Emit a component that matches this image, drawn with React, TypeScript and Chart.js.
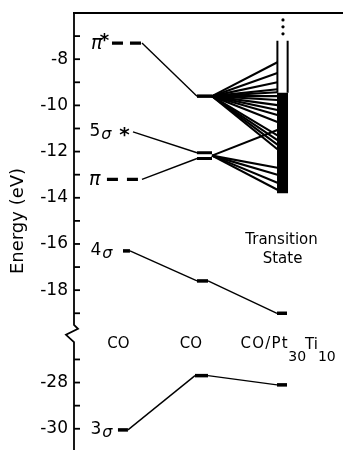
import React, { useEffect, useRef } from "react";
import { Chart, registerables } from "chart.js";

Chart.register(...registerables);

// ---------------- data (eV) ----------------
const columnIndex = [0, 1, 2];
const columnLabels = ["CO", "CO", "CO/Pt30Ti10"];
const surfaceLabelParts: [string, boolean][] = [["CO/Pt", false], ["30", true], ["Ti", false], ["10", true]];

// orbital levels per column: [CO, CO (distorted), CO/Pt30Ti10]
const piStarLevels = [-7.3, -9.6];
const fiveSigmaLevels = [-11.15, -12.05];
const piLevels = [-13.2, -12.3];
const fourSigmaLevels = [-16.3, -17.6, -19.0];
const threeSigmaLevels = [-30.05, -27.7, -28.1];

// transition-state band of CO/Pt30Ti10
const tsOpenBand = [-7.2, -9.45];
const tsFilledBand = [-9.45, -13.8];
const tsDots = [-6.3, -6.6, -6.9];

// mixing lines into the band
const fanFromPiStar = [-8.13, -8.6, -9.0, -9.3, -9.43, -9.6, -9.77, -9.99, -10.2, -10.42, -10.72, -11.3, -11.5, -11.7, -11.9];
const fanFromSigmaPi = [-11.07, -12.7, -13.0, -13.35, -13.65];

// axis
const upperTickValues = [-7, -8, -9, -10, -11, -12, -13, -14, -15, -16, -17, -18, -19];
const lowerTickValues = [-27, -28, -29, -30];
const upperTickLabels = [-8, -10, -12, -14, -16, -18];
const lowerTickLabels = [-28, -30];
const upperRange = [-20, -6];
const lowerRange = [-30.92, -26];

// ---------------- geometry / style ----------------
const SPAN = {
  piStarL: [-0.2, 0.187],
  piL: [-0.265, 0.187],
  sigma5StartL: 0.071,
  sigma4L: [-0.058, 0.032],
  sigma3L: [-0.123, 0.006],
  mid: [-0.103, 0.09],
  mid4: [-0.103, 0.039],
  mid3: [-0.129, 0.039],
  right: [-0.071, 0.058],
  bandEdges: [-0.066, 0.066],
  dotX: 0.006,
};
const LW = { level: 3.5, conn: 1.4, fan: 2.1 };
const FONT = "DejaVu Sans";

type P = { x: number; y: number };
const seg = (pts: P[], axis: string, width: number, dash: number[] = []) => ({
  type: "line" as const,
  data: pts,
  yAxisID: axis,
  xAxisID: "x",
  borderColor: "#000",
  backgroundColor: "#000",
  borderWidth: width,
  borderDash: dash,
  borderCapStyle: "butt",
  pointRadius: 0,
  pointHoverRadius: 0,
  fill: false,
  tension: 0,
  clip: false,
});

const decor = {
  id: "decor",
  afterDatasetsDraw(chart: any) {
    const ctx: CanvasRenderingContext2D = chart.ctx;
    const { x, yTop, yBot } = chart.scales;
    const area = chart.chartArea;
    const ax = area.left;
    ctx.save();
    ctx.strokeStyle = "#000";
    ctx.fillStyle = "#000";
    ctx.lineWidth = 1.8;
    // top frame
    ctx.beginPath();
    ctx.moveTo(ax - 1, area.top);
    ctx.lineTo(area.right - 2, area.top);
    ctx.stroke();
    // axis with break
    const bTop = yTop.getPixelForValue(-19.5);
    const bBot = yBot.getPixelForValue(-26.25);
    ctx.beginPath();
    ctx.moveTo(ax, area.top);
    ctx.lineTo(ax, bTop);
    ctx.lineTo(ax + 4, bTop + 4);
    ctx.lineTo(ax - 8, bTop + 10);
    ctx.lineTo(ax, bBot);
    ctx.lineTo(ax, area.bottom);
    ctx.stroke();
    // inward ticks
    for (const v of upperTickValues) {
      const p = yTop.getPixelForValue(v);
      ctx.beginPath(); ctx.moveTo(ax, p); ctx.lineTo(ax + 6, p); ctx.stroke();
    }
    for (const v of lowerTickValues) {
      const p = yBot.getPixelForValue(v);
      ctx.beginPath(); ctx.moveTo(ax, p); ctx.lineTo(ax + 6, p); ctx.stroke();
    }

    const colPx = (c: number) => x.getPixelForValue(c);
    const c0 = colPx(columnIndex[0]);
    // orbital labels
    const drawSigma = (digit: string, y: number, xr: number) => {
      ctx.font = `italic 16px ${FONT}`;
      ctx.textAlign = "right";
      ctx.textBaseline = "middle";
      ctx.fillText("σ", xr, y + 3);
      const w = ctx.measureText("σ").width;
      ctx.font = `17px ${FONT}`;
      ctx.fillText(digit, xr - w - 1, y);
    };
    const drawPi = (y: number, xr: number, star: boolean) => {
      ctx.font = `italic 19px ${FONT}`;
      ctx.textAlign = "right";
      ctx.textBaseline = "middle";
      ctx.fillText("π", xr, y + 1);
      if (star) {
        ctx.font = `bold 18px ${FONT}`;
        ctx.textAlign = "center";
        ctx.fillText("*", xr + 2, y - 2);
      }
    };
    drawPi(yTop.getPixelForValue(piStarLevels[0]), c0 - 25, true);
    drawPi(yTop.getPixelForValue(piLevels[0]), c0 - 27, false);
    const y5 = yTop.getPixelForValue(fiveSigmaLevels[0]);
    drawSigma("5", y5, c0 - 16);
    ctx.font = `bold 20px ${FONT}`;
    ctx.textAlign = "center";
    ctx.fillText("*", c0 - 3, y5 + 4);
    drawSigma("4", yTop.getPixelForValue(fourSigmaLevels[0]), c0 - 15);
    drawSigma("3", yBot.getPixelForValue(threeSigmaLevels[0]), c0 - 15);

    // column labels in the break
    const yl = yTop.getPixelForValue(-20) + 8;
    ctx.font = `15px ${FONT}`;
    ctx.textAlign = "center";
    ctx.textBaseline = "middle";
    ctx.fillText(columnLabels[0], c0 - 9, yl);
    ctx.fillText(columnLabels[1], colPx(columnIndex[1]) - 14, yl);
    let xx = colPx(columnIndex[2]) - 42;
    ctx.textAlign = "left";
    surfaceLabelParts.forEach(([t, sub], i) => {
      if (sub) {
        ctx.font = `14px ${FONT}`;
        ctx.fillText(t, xx, yl + 13);
        xx += ctx.measureText(t).width - 1;
      } else if (i === 0) {
        ctx.font = `15px ${FONT}`;
        for (const ch of t) {
          ctx.fillText(ch, xx, yl);
          xx += ctx.measureText(ch).width + 1.2;
        }
        xx -= 0.5;
      } else {
        ctx.font = `15px ${FONT}`;
        ctx.fillText(t, xx, yl + 1);
        xx += ctx.measureText(t).width;
      }
    });
    // transition state
    ctx.textAlign = "center";
    ctx.font = `15px ${FONT}`;
    const c2 = colPx(columnIndex[2]);
    ctx.fillText("Transition", c2 - 1, yTop.getPixelForValue(-15.82));
    ctx.fillText("State", c2, yTop.getPixelForValue(-16.64));

    // y title
    ctx.save();
    ctx.translate(18, 221);
    ctx.rotate(-Math.PI / 2);
    ctx.font = `18px ${FONT}`;
    ctx.textAlign = "center";
    ctx.textBaseline = "middle";
    ctx.fillText("Energy (eV)", 0, 0);
    ctx.restore();
    ctx.restore();
  },
};

export default function App() {
  const ref = useRef<HTMLCanvasElement>(null);
  useEffect(() => {
    const canvas = ref.current!;
    const [c0, c1, c2] = columnIndex;
    const ds: any[] = [];
    // π*
    ds.push(seg([{ x: c0 + SPAN.piStarL[0], y: piStarLevels[0] }, { x: c0 + SPAN.piStarL[1], y: piStarLevels[0] }], "yTop", 3.2, [11, 7]));
    ds.push(seg([{ x: c0 + SPAN.piStarL[1], y: piStarLevels[0] }, { x: c1 + SPAN.mid[0], y: piStarLevels[1] }], "yTop", LW.conn));
    ds.push(seg([{ x: c1 + SPAN.mid[0], y: piStarLevels[1] }, { x: c1 + SPAN.mid[1], y: piStarLevels[1] }], "yTop", LW.level));
    // 5σ
    ds.push(seg([{ x: c0 + SPAN.sigma5StartL, y: fiveSigmaLevels[0] }, { x: c1 + SPAN.mid[0], y: fiveSigmaLevels[1] }], "yTop", LW.conn));
    ds.push(seg([{ x: c1 + SPAN.mid[0], y: fiveSigmaLevels[1] }, { x: c1 + SPAN.mid[1], y: fiveSigmaLevels[1] }], "yTop", 3));
    // π
    ds.push(seg([{ x: c0 + SPAN.piL[0], y: piLevels[0] }, { x: c0 + SPAN.piL[1], y: piLevels[0] }], "yTop", 3.2, [11, 9]));
    ds.push(seg([{ x: c0 + SPAN.piL[1], y: piLevels[0] }, { x: c1 + SPAN.mid[0], y: piLevels[1] }], "yTop", LW.conn));
    ds.push(seg([{ x: c1 + SPAN.mid[0], y: piLevels[1] }, { x: c1 + SPAN.mid[1], y: piLevels[1] }], "yTop", 3));
    // 4σ
    ds.push(seg([{ x: c0 + SPAN.sigma4L[0], y: fourSigmaLevels[0] }, { x: c0 + SPAN.sigma4L[1], y: fourSigmaLevels[0] }], "yTop", LW.level));
    ds.push(seg([{ x: c0 + SPAN.sigma4L[1], y: fourSigmaLevels[0] }, { x: c1 + SPAN.mid4[0], y: fourSigmaLevels[1] }], "yTop", LW.conn));
    ds.push(seg([{ x: c1 + SPAN.mid4[0], y: fourSigmaLevels[1] }, { x: c1 + SPAN.mid4[1], y: fourSigmaLevels[1] }], "yTop", LW.level));
    ds.push(seg([{ x: c1 + SPAN.mid4[1], y: fourSigmaLevels[1] }, { x: c2 + SPAN.right[0], y: fourSigmaLevels[2] }], "yTop", LW.conn));
    ds.push(seg([{ x: c2 + SPAN.right[0], y: fourSigmaLevels[2] }, { x: c2 + SPAN.right[1], y: fourSigmaLevels[2] }], "yTop", LW.level));
    // 3σ
    ds.push(seg([{ x: c0 + SPAN.sigma3L[0], y: threeSigmaLevels[0] }, { x: c0 + SPAN.sigma3L[1], y: threeSigmaLevels[0] }], "yBot", LW.level));
    ds.push(seg([{ x: c0 + SPAN.sigma3L[1], y: threeSigmaLevels[0] }, { x: c1 + SPAN.mid3[0], y: threeSigmaLevels[1] }], "yBot", LW.conn));
    ds.push(seg([{ x: c1 + SPAN.mid3[0], y: threeSigmaLevels[1] }, { x: c1 + SPAN.mid3[1], y: threeSigmaLevels[1] }], "yBot", LW.level));
    ds.push(seg([{ x: c1 + SPAN.mid3[1], y: threeSigmaLevels[1] }, { x: c2 + SPAN.right[0], y: threeSigmaLevels[2] }], "yBot", LW.conn));
    ds.push(seg([{ x: c2 + SPAN.right[0], y: threeSigmaLevels[2] }, { x: c2 + SPAN.right[1], y: threeSigmaLevels[2] }], "yBot", LW.level));
    // fans
    for (const e of fanFromPiStar) {
      ds.push(seg([{ x: c1 + SPAN.mid[1], y: piStarLevels[1] }, { x: c2 + SPAN.bandEdges[0], y: e }], "yTop", LW.fan));
    }
    const eqMid = (fiveSigmaLevels[1] + piLevels[1]) / 2;
    for (const e of fanFromSigmaPi) {
      ds.push(seg([{ x: c1 + SPAN.mid[1], y: eqMid }, { x: c2 + SPAN.bandEdges[0], y: e }], "yTop", LW.fan));
    }
    // band
    for (const edge of SPAN.bandEdges) {
      ds.push(seg([{ x: c2 + edge, y: tsOpenBand[0] }, { x: c2 + edge, y: tsOpenBand[1] }], "yTop", 2));
    }
    ds.push(seg([{ x: c2, y: tsFilledBand[0] }, { x: c2, y: tsFilledBand[1] }], "yTop", 11));
    ds.push({
      type: "line",
      data: tsDots.map((y) => ({ x: c2 + SPAN.dotX, y })),
      yAxisID: "yTop",
      xAxisID: "x",
      showLine: false,
      pointRadius: 1.6,
      pointBackgroundColor: "#000",
      pointBorderWidth: 0,
    });

    const yScale = (range: number[], ticksShown: number[], weight: number) => ({
      type: "linear",
      position: "left",
      stack: "energy",
      stackWeight: weight,
      min: range[0],
      max: range[1],
      grid: { display: false, drawTicks: false },
      border: { display: false },
      ticks: {
        stepSize: 1,
        autoSkip: false,
        includeBounds: false,
        padding: 6,
        color: "#000",
        font: { family: FONT, size: 17 },
        callback: (v: number) => (ticksShown.includes(v) ? String(v) : ""),
      },
      afterFit: (s: any) => {
        s.width = 74;
        s.paddingTop = 0;
        s.paddingBottom = 0;
      },
    });

    const chart = new Chart(canvas, {
      type: "line",
      data: { datasets: ds },
      options: {
        animation: false,
        responsive: false,
        events: [],
        layout: { autoPadding: false, padding: { top: 13, left: 0, right: 0, bottom: 0 } },
        plugins: { legend: { display: false }, tooltip: { enabled: false } },
        scales: {
          x: { type: "linear", min: -0.69, max: 2.806, display: false },
          yBot: yScale(lowerRange, lowerTickLabels, lowerRange[1] - lowerRange[0]),
          yTop: yScale(upperRange, upperTickLabels, upperRange[1] - upperRange[0]),
        } as any,
      },
      plugins: [decor],
    } as any);
    return () => chart.destroy();
  }, []);
  return (
    <div style={{ position: "fixed", left: 0, top: 0, width: 345, height: 450, background: "#fff" }}>
      <canvas ref={ref} width={345} height={450} style={{ display: "block" }} />
    </div>
  );
}
